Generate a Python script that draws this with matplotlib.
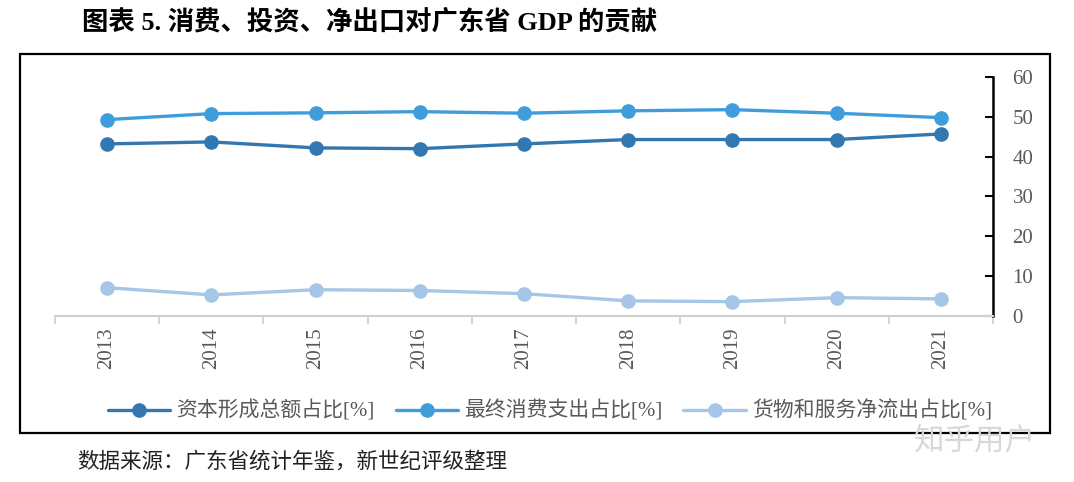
import matplotlib
matplotlib.use('Agg')
import matplotlib.pyplot as plt
from matplotlib.patches import Rectangle
from matplotlib.ticker import MultipleLocator, FixedLocator

plt.rcParams['font.family'] = ['Liberation Serif', 'Noto Sans CJK SC']

# data
years = ['2013', '2014', '2015', '2016', '2017', '2018', '2019', '2020', '2021']
capital = [43.2, 43.7, 42.2, 42.0, 43.2, 44.3, 44.3, 44.3, 45.7]
consumption = [49.3, 50.8, 51.0, 51.3, 50.9, 51.5, 51.8, 50.9, 49.8]
net_export = [7.1, 5.3, 6.6, 6.4, 5.6, 3.8, 3.6, 4.6, 4.3]

series_names = ['资本形成总额占比[%]', '最终消费支出占比[%]', '货物和服务净流出占比[%]']
series_colors = ['#3277B0', '#3F9DDB', '#A6C6E7']

title = '图表 5. 消费、投资、净出口对广东省 GDP 的贡献'
source = '数据来源：广东省统计年鉴，新世纪评级整理'

fig = plt.figure(figsize=(10.74, 4.82), dpi=100)
ax = fig.add_axes([0.0512, 0.3444, 0.8734, 0.4959])

x = list(range(len(years)))
for vals, name, col in zip([capital, consumption, net_export], series_names, series_colors):
    ax.plot(x, vals, color=col, lw=2.4, marker='o', ms=9.5, label=name,
            solid_capstyle='round', zorder=3)

ax.set_xlim(-0.5, len(years) - 0.5)
ax.set_ylim(0, 60)

# right-hand y axis
ax.yaxis.tick_right()
ax.yaxis.set_major_locator(MultipleLocator(10))
ax.tick_params(axis='y', direction='in', length=6, width=1.5, color='black',
               labelsize=15, labelcolor='#595959', pad=14)

# category axis: ticks between categories, labels rotated
ax.xaxis.set_major_locator(FixedLocator(x))
ax.set_xticklabels(years, rotation=90)
ax.xaxis.set_minor_locator(FixedLocator([i - 0.5 for i in range(len(years) + 1)]))
ax.tick_params(axis='x', which='major', length=0, labelsize=15,
               labelcolor='#595959', pad=8)
ax.tick_params(axis='x', which='minor', length=6, width=1.2, color='#D0D0D0')

for side in ['top', 'left']:
    ax.spines[side].set_visible(False)
ax.spines['right'].set_color('black')
ax.spines['right'].set_linewidth(1.8)
ax.spines['bottom'].set_color('#D0D0D0')
ax.spines['bottom'].set_linewidth(1.5)

leg = fig.legend(loc='center', bbox_to_anchor=(0.512, 0.147), ncol=3, frameon=False,
                 fontsize=15, handlelength=3.0, columnspacing=1.0, handletextpad=0.3,
                 labelcolor='#595959')

# outer frame
fig.patches.append(Rectangle((0.0186, 0.1017), 0.9591, 0.7863, transform=fig.transFigure,
                             fill=False, edgecolor='black', lw=1.6))

fig.text(0.076, 0.953, title, fontsize=19, fontweight='bold', va='center', ha='left')
fig.text(0.072, 0.042, source, fontsize=15.5, va='center', ha='left',
         family=['Noto Sans CJK SC'], color='#222222')
fig.text(0.851, 0.085, '知乎用户', fontsize=22, va='center', ha='left',
         family=['Noto Sans CJK SC'], color='#D8D8D8', zorder=10)

fig.savefig('out.png', dpi=100)
